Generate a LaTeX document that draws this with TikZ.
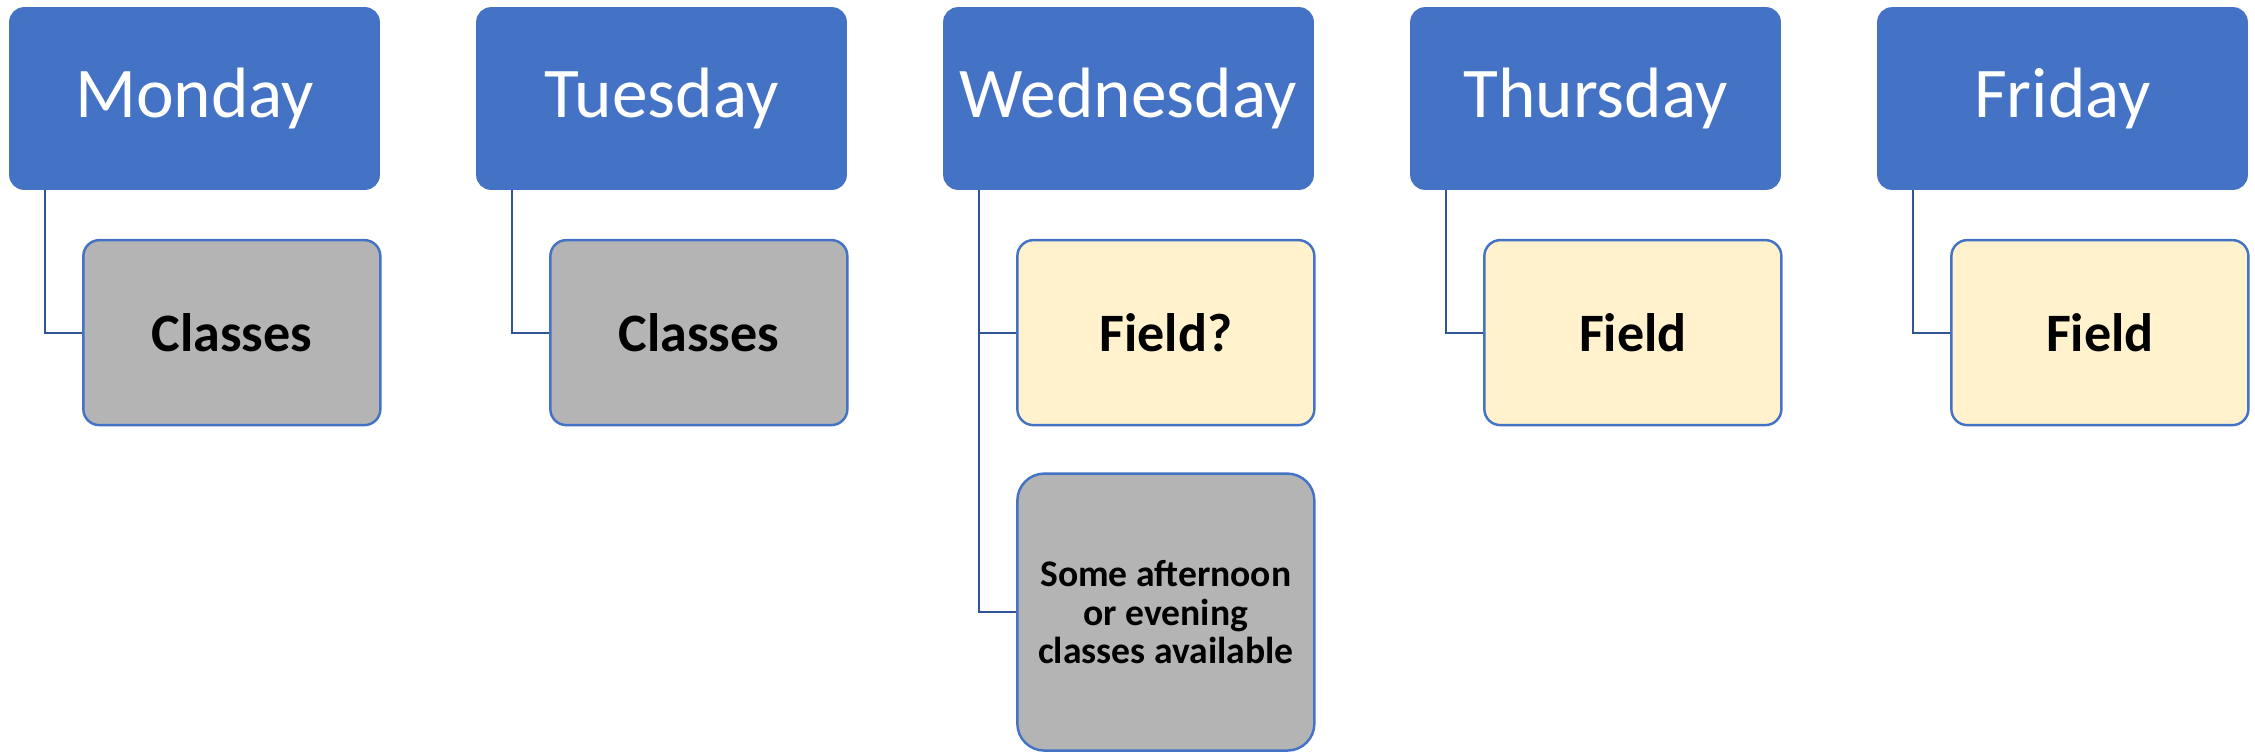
\documentclass[tikz,border=0pt]{standalone}
\usepackage{fontspec}
\setmainfont{Carlito}
\usetikzlibrary{positioning,calc}
\definecolor{dayblue}{HTML}{4472C4}
\definecolor{linkblue}{HTML}{2F5597}
\definecolor{classgray}{HTML}{B4B4B4}
\definecolor{fieldyellow}{HTML}{FFF2CC}

\begin{document}
\begin{tikzpicture}[
        daybox/.style={rectangle,rounded corners=0.14cm,fill=dayblue,draw=dayblue,line width=0.5pt,
            minimum width=3.69cm,minimum height=1.81cm,inner sep=0pt,text=white,
            font=\fontsize{20.3}{24}\selectfont},
        taskbox/.style={rectangle,rounded corners=0.16cm,draw=dayblue,line width=0.7pt,
            minimum width=2.97cm,minimum height=1.85cm,inner sep=0pt,
            font=\bfseries\fontsize{15.4}{18}\selectfont},
        classbox/.style={taskbox,fill=classgray},
        fieldbox/.style={taskbox,fill=fieldyellow},
        link/.style={draw=linkblue,line width=0.6pt}
    ]
                \useasboundingbox (0,0) rectangle (22.55,7.52);
                \foreach \d/\day [count=\i from 0] in {mon/Monday,tue/Tuesday,wed/Wednesday,thu/Thursday,fri/Friday}
                \node[daybox] (\d) at (1.945+\i*4.67,6.535) {\day};

                \node[classbox,below right=0.49cm and 0.73cm of mon.south west] (monc) {Classes};
                \node[classbox,below right=0.49cm and 0.73cm of tue.south west] (tuec) {Classes};
                \node[fieldbox,below right=0.49cm and 0.73cm of wed.south west] (wedf) {Field?};
                \node[fieldbox,below right=0.49cm and 0.73cm of thu.south west] (thuf) {Field};
                \node[fieldbox,below right=0.49cm and 0.73cm of fri.south west] (frif) {Field};
                \node[classbox,rounded corners=0.27cm,minimum height=2.77cm,below=0.46cm of wedf,
                    align=center,font=\bfseries\fontsize{10.7}{11}\selectfont] (weds)
                    {Some afternoon\\or evening\\classes available};

                \foreach \p/\c in {mon/monc,tue/tuec,wed/wedf,thu/thuf,fri/frif,wed/weds}
                \draw[link] ([xshift=0.36cm]\p.south west) |- (\c.west);

            \end{tikzpicture}
\end{document}
